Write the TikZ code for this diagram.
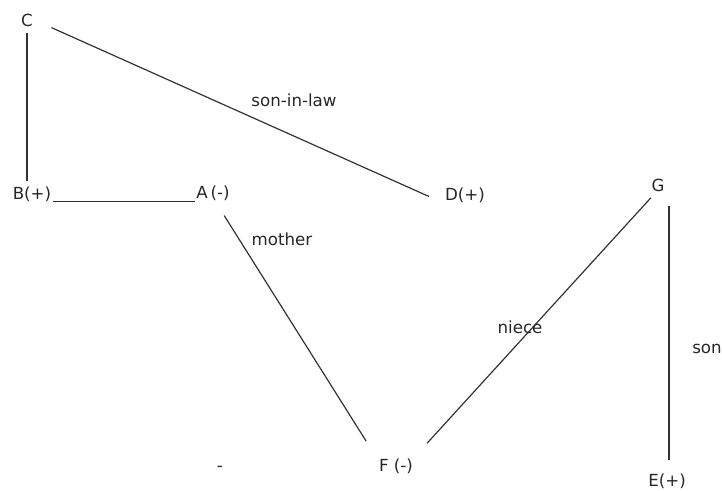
\documentclass[tikz,border=0pt]{standalone}
\usepackage{fontspec}
\setmainfont{DejaVu Sans}
\begin{document}
\begin{tikzpicture}[x=0.75pt, y=-0.75pt,
  font=\fontsize{12.5}{14}\selectfont, text=black!85,
  person/.style={inner sep=1pt},
  rel/.style={draw=black!80, line width=0.9pt}]
            \useasboundingbox (0,0) rectangle (722,491);
            % people
            \node[person] (C) at (27,20) {C};
            \node[person] (B) at (32,194) {B(+)};
            \node[person] (A) at (213,193) {A\,(-)};
            \node[person] (D) at (465,195) {D(+)};
            \node[person] (F) at (396,466) {F (-)};
            \node[person] (G) at (658,185) {G};
            \node[person] (E) at (667,481) {E(+)};
            \node[person] (dash) at (220,469) {-};
            % relations
            \draw[rel, shorten <=14pt, shorten >=12pt] (C.east) -- ([yshift=-6pt]D.west);
            \draw[rel, shorten <=4pt, shorten >=3pt] (C.south) -- (C.south |- B.north);
            \draw[rel] ([yshift=-2pt]B.base east) -- ([yshift=-2pt]B.base east -| A.west);
            \draw[rel, shorten <=12pt, shorten >=14pt] ([xshift=2pt]A.south) -- ([xshift=-1pt]F.north west);
            \draw[rel, shorten <=14pt, shorten >=5pt] (F.north east) -- ([xshift=-2pt]G.south);
            \draw[rel, shorten <=9pt, shorten >=10pt] ([xshift=1.5pt]E.north) -- ([xshift=1.5pt]E.north |- G.south);
            % labels
            \node (sil) at (294,100) {son-in-law};
            \node (mom) at (282,239) {mother};
            \node (nie) at (520,327) {niece};
            \node (son) at (707,349) {son};
\end{tikzpicture}
\end{document}
